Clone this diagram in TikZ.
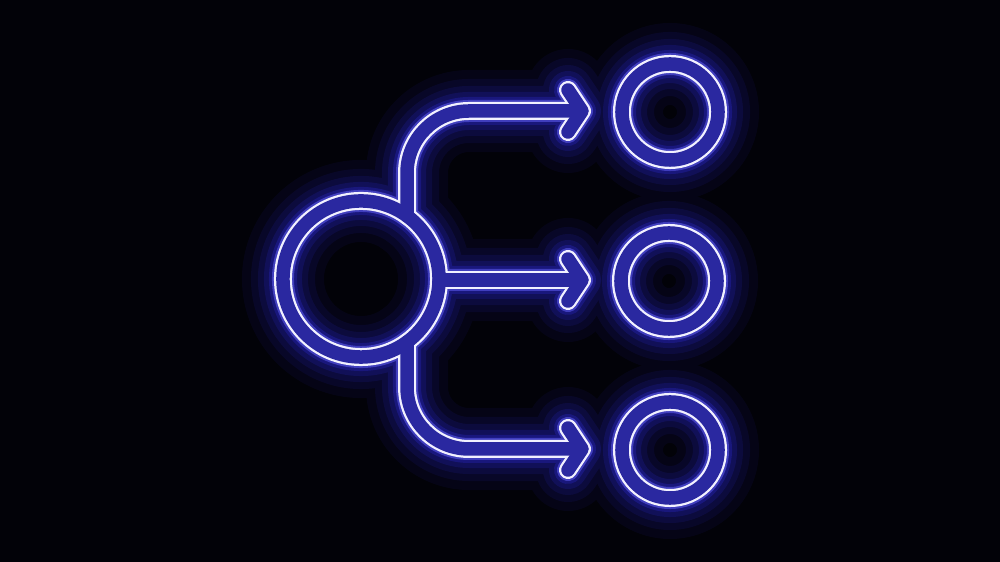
\documentclass[tikz,border=0pt]{standalone}
\usepackage{tikz}
\usetikzlibrary{calc}

\definecolor{bgdark}{HTML}{020208}
\definecolor{neonglow}{HTML}{3634FF}
\definecolor{neonhalo}{HTML}{6866FF}
\definecolor{neonline}{HTML}{F2F1FF}
\definecolor{neontube}{HTML}{2A28A0}

% the whole icon, drawn once per layer
\newcommand{\flowicon}[1]{%
  % hub and the three targets
  \draw[#1] (hub) circle[radius=0.78cm];
  \draw[#1] (outA) circle[radius=0.48cm];
  \draw[#1] (outB) circle[radius=0.48cm];
  \draw[#1] (outC) circle[radius=0.48cm];
  % upper arrow
  \draw[#1, rounded corners=0.62cm] (hubN) -- (hubN |- tipA) -- ($(tipA)+(-8,0)$);
  \draw[#1] ($(tipA)+(-14,-21)$) -- (tipA) -- ($(tipA)+(-14,21)$);
  % middle arrow
  \draw[#1] (hubE) -- ($(tipB)+(-8,0)$);
  \draw[#1] ($(tipB)+(-14,-21)$) -- (tipB) -- ($(tipB)+(-14,21)$);
  % lower arrow
  \draw[#1, rounded corners=0.62cm] (hubS) -- (hubS |- tipC) -- ($(tipC)+(-8,0)$);
  \draw[#1] ($(tipC)+(-14,-21)$) -- (tipC) -- ($(tipC)+(-14,21)$);
}

\begin{document}
\begin{tikzpicture}[x=0.01cm, y=-0.01cm,
    neon/.style={line cap=round, line join=round}]
\useasboundingbox (0,0) rectangle (1000,562);
\fill[bgdark] (0,0) rectangle (1000,562);

\coordinate (hub) at (361,279);
\coordinate (hubN) at ($(hub)+(46,-63)$);
\coordinate (hubE) at ($(hub)+(78,1)$);
\coordinate (hubS) at ($(hub)+(46,63)$);
\coordinate (outA) at (670,112);
\coordinate (outB) at (669,281);
\coordinate (outC) at (670,450);
\coordinate (tipA) at (582,111);
\coordinate (tipB) at (582,280);
\coordinate (tipC) at (582,449);

% glow
\foreach \w/\c/\o in {0.82cm/neonglow/0.06, 0.64cm/neonglow/0.08,
                      0.50cm/neonglow/0.10, 0.38cm/neonglow/0.14,
                      0.28cm/neonglow/0.22, 0.22cm/neonhalo/0.50}{
  \begin{scope}[transparency group, opacity=\o]
    \flowicon{neon, line width=\w, draw=\c}
  \end{scope}
}

% tube outline and inside
\flowicon{neon, line width=0.18cm, draw=neonline}
\flowicon{neon, line width=0.135cm, draw=neontube}
\end{tikzpicture}
\end{document}
